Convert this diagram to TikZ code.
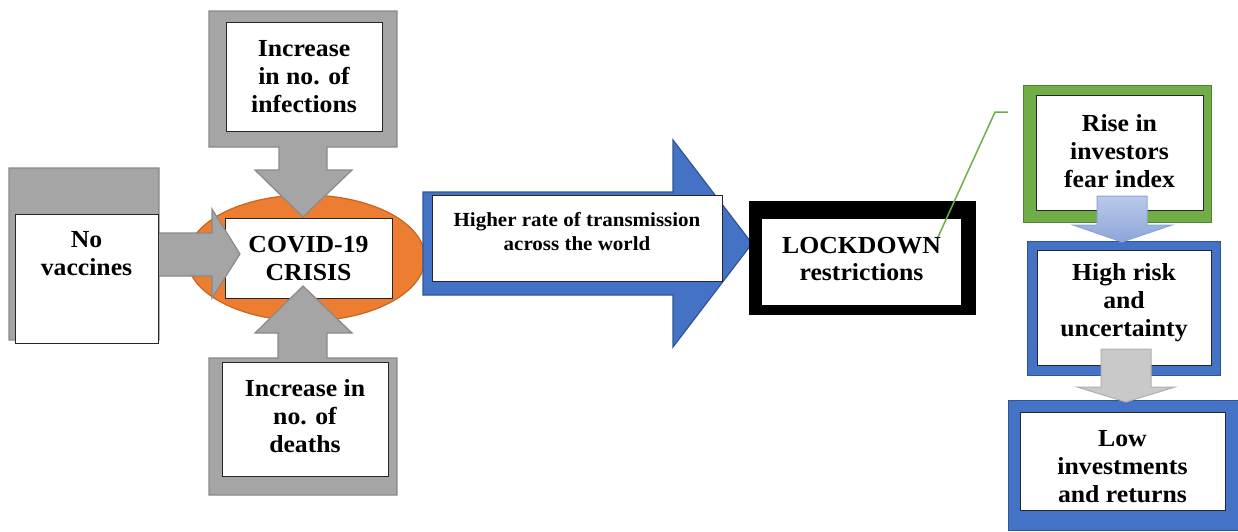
\documentclass[tikz,border=0pt]{standalone}
\usepackage{fontspec}
\setmainfont{Liberation Serif}[FakeStretch=1.05]
\definecolor{cgray}{HTML}{A5A5A5}
\definecolor{cgrayd}{HTML}{8A8A8A}
\definecolor{corange}{HTML}{ED7D31}
\definecolor{corangd}{HTML}{C8651F}
\definecolor{cblue}{HTML}{4472C4}
\definecolor{cblued}{HTML}{2F5597}
\definecolor{cgreen}{HTML}{70AD47}
\definecolor{cgreend}{HTML}{548235}
\definecolor{clblue}{HTML}{A9BCE5}
\definecolor{clblued}{HTML}{8CA5D8}
\definecolor{clgray}{HTML}{C9C9C9}
\definecolor{clgrayd}{HTML}{AFAFAF}
\newcommand\bigtxt{\fontsize{24.5}{28}\selectfont\bfseries}
\newcommand\midtxt{\fontsize{20}{24}\selectfont\bfseries}
\begin{document}
\begin{tikzpicture}[x=1pt,y=-1pt,
  grayshape/.style={fill=cgray, draw=cgrayd, line width=1.2pt, line join=miter},
  blueshape/.style={fill=cblue, draw=cblued, line width=1.2pt},
  wbox/.style={draw=black!85, fill=white, line width=1pt, inner sep=0pt},
  txt/.style={font=\bigtxt, align=center, inner sep=0pt, text=black},
  frame/.style={inner sep=0pt, line width=1pt}]
\useasboundingbox (0,0) rectangle (1238,531);

% orange ellipse
\draw[fill=corange, draw=corangd, line width=1.2pt] (306,258) ellipse [x radius=119, y radius=63];

% COVID box
\node[wbox, minimum width=167, minimum height=80] (covb) at (308.5,258) {};

% left callout (No vaccines)
\draw[grayshape] (9,168) -- (159,168) -- (159,233) -- (212,233) -- (212,209) -- (240,254)
  -- (212,298) -- (212,276) -- (159,276) -- (159,340) -- (9,340) -- cycle;
\node[wbox, minimum width=143, minimum height=129] (novb) at (86.5,278.5) {};
\node[txt] (novt) at (86.5,254) {No\\vaccines};

% top callout (infections)
\draw[grayshape] (209,11) -- (397,11) -- (397,147) -- (327,147) -- (327,170) -- (352,170)
  -- (303,217) -- (255,170) -- (279,170) -- (279,147) -- (209,147) -- cycle;
\node[wbox, minimum width=156, minimum height=109] (infb) at (304,76.5) {};
\node[txt] (inft) at (304,77) {Increase\\in no. of\\infections};

% bottom callout (deaths)
\draw[grayshape] (209,495) -- (397,495) -- (397,358) -- (327,358) -- (327,333) -- (352,333)
  -- (303,286) -- (255,333) -- (278,333) -- (278,358) -- (209,358) -- cycle;
\node[wbox, minimum width=166, minimum height=114] (deab) at (305,419) {};
\node[txt] (deat) at (305,416) {Increase in\\no. of\\deaths};

% COVID text
\node[txt] (covt) at (308.5,258) {COVID-19\\CRISIS};

% blue big arrow
\draw[blueshape] (423,192) -- (673,192) -- (673,140) -- (752,243.5) -- (673,347) -- (673,295)
  -- (423,295) -- cycle;
\node[wbox, minimum width=290, minimum height=86] (higb) at (577,238) {};
\node[txt, font=\midtxt] (higt) at (577,232) {Higher rate of transmission\\across the world};

% LOCKDOWN
\node[fill=black, inner sep=0pt, minimum width=227, minimum height=114] (lockout) at (862.5,258) {};
\node[fill=white, inner sep=0pt, minimum width=199, minimum height=86] (lockin) at (861.5,262) {};
\node[txt] (lockt) at (861.5,259) {LOCKDOWN\\restrictions};

% callout line
\coordinate (cl0) at (938,237);
\coordinate (cl1) at (995,112);
\coordinate (cl2) at (1008,112);
\draw[cgreen, line width=1.5pt] (cl0) -- (cl1) -- (cl2);

% right column
\node[fill=cgreen, draw=cgreend, frame, minimum width=188, minimum height=137] (riseout) at (1117,153.5) {};
\node[wbox, minimum width=167, minimum height=115] (riseb) at (1119.5,152.5) {};
\node[txt] (riset) at (1119.5,151) {Rise in\\investors\\fear index};

\node[fill=cblue, draw=cblued, frame, minimum width=193, minimum height=134] (riskout) at (1123.5,308) {};
\node[wbox, minimum width=174, minimum height=115] (riskb) at (1124,307.5) {};
\node[txt] (riskt) at (1124,303) {High risk\\and\\uncertainty};

\node[fill=cblue, draw=cblued, frame, minimum width=230, minimum height=130] (lowout) at (1123,465) {};
\node[wbox, minimum width=205, minimum height=98] (lowb) at (1122.5,461) {};
\node[txt] (lowt) at (1122.5,467) {Low\\investments\\and returns};

% small down arrows
\draw[top color=clblue!80!white, bottom color=clblued, draw=clblued, line width=1pt]
  (1097,196) -- (1147,196) -- (1147,225) -- (1172,225) -- (1122,242) -- (1073,225) -- (1097,225) -- cycle;
\draw[fill=clgray, draw=clgrayd, line width=1pt]
  (1101,349) -- (1151,349) -- (1151,387) -- (1175,387) -- (1126,402) -- (1077,387) -- (1101,387) -- cycle;
\end{tikzpicture}
\end{document}
